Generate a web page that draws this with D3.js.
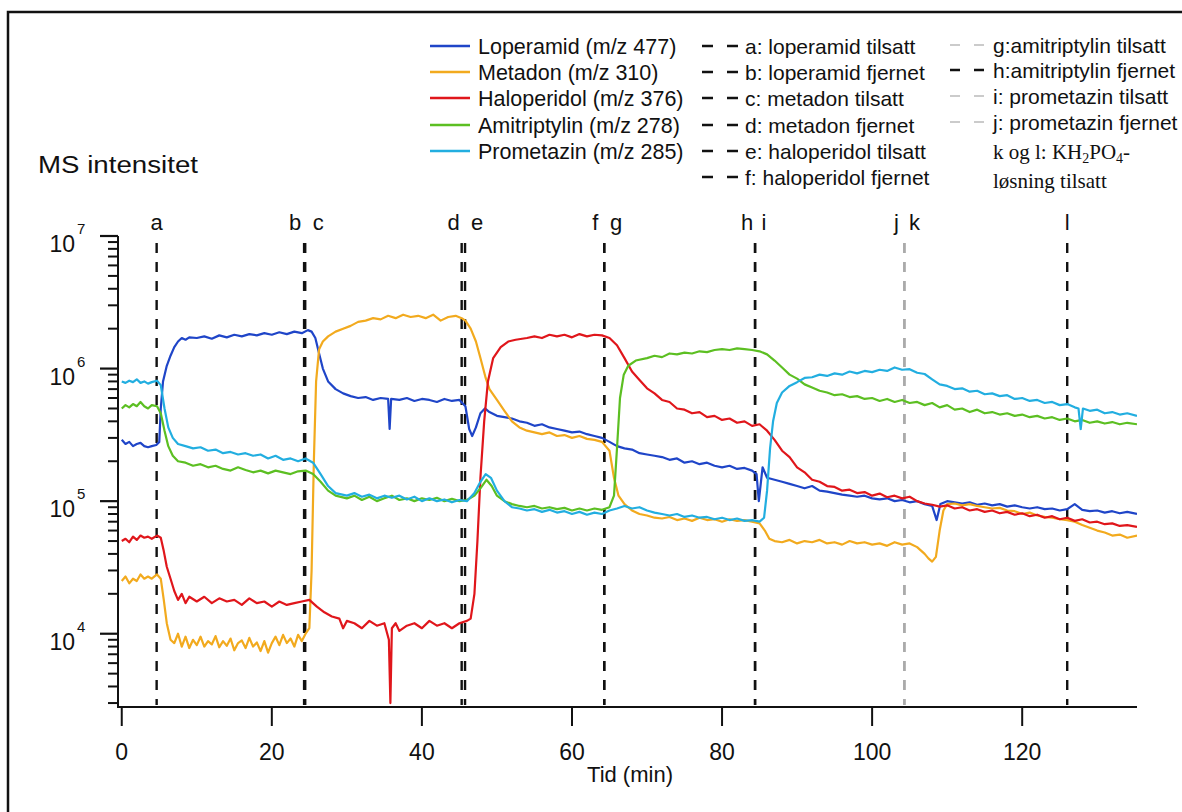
<!DOCTYPE html>
<html><head><meta charset="utf-8">
<script src="https://cdn.jsdelivr.net/npm/d3@7"></script>
<style>body{margin:0;background:#fff}svg{display:block}</style>
</head><body>
<script>
// ---------- DATA ----------
const seriesNames = ["Loperamid (m/z 477)","Metadon (m/z 310)","Haloperidol (m/z 376)","Amitriptylin (m/z 278)","Prometazin (m/z 285)"];
const loperamid = [[0,2.9e5],[0.5,2.7e5],[1,2.8e5],[1.5,2.6e5],[2,2.7e5],[2.5,2.75e5],[3,2.6e5],[3.5,2.55e5],[4,2.6e5],[4.6,2.65e5],[5,2.8e5],[5.2,5e5],[5.5,8e5],[6,1.05e6],[6.5,1.25e6],[7,1.45e6],[7.5,1.6e6],[8,1.7e6],[8.5,1.65e6],[9,1.72e6],[10,1.7e6],[11,1.75e6],[12,1.68e6],[13,1.78e6],[14,1.72e6],[15,1.8e6],[16,1.75e6],[17,1.82e6],[18,1.78e6],[19,1.85e6],[20,1.8e6],[21,1.88e6],[22,1.82e6],[23,1.9e6],[24,1.85e6],[24.8,1.95e6],[25.3,1.9e6],[25.8,1.7e6],[26.3,1.3e6],[26.8,1e6],[27.5,8e5],[28.5,7e5],[29.5,6.5e5],[30.5,6.2e5],[31.5,6e5],[32.5,6.1e5],[33.5,5.8e5],[34.5,6e5],[35.5,5.9e5],[35.7,3.5e5],[35.9,5.9e5],[37,5.8e5],[38,6e5],[39,5.7e5],[40,5.9e5],[41,5.8e5],[42,5.6e5],[43,5.9e5],[44,5.7e5],[45,5.8e5],[45.8,5.2e5],[46.3,3.5e5],[46.7,3.1e5],[47.2,3.6e5],[47.8,4.6e5],[48.4,5.0e5],[49,4.7e5],[50,4.4e5],[51,4.3e5],[52,4.2e5],[53,4.0e5],[54,3.9e5],[55,3.7e5],[56,3.8e5],[57,3.6e5],[58,3.5e5],[59,3.4e5],[60,3.3e5],[61,3.35e5],[62,3.2e5],[63,3.1e5],[64,3.0e5],[65,2.8e5],[66,2.6e5],[67,2.5e5],[68,2.45e5],[69,2.3e5],[70,2.25e5],[71,2.2e5],[72,2.15e5],[73,2.05e5],[74,2.1e5],[75,1.95e5],[76,2e5],[77,1.9e5],[78,1.95e5],[79,1.85e5],[80,1.8e5],[81,1.85e5],[82,1.75e5],[83,1.78e5],[84,1.7e5],[84.6,1.6e5],[84.9,1.0e5],[85.4,1.8e5],[86,1.5e5],[87,1.45e5],[88,1.4e5],[89,1.35e5],[90,1.3e5],[91,1.25e5],[92,1.3e5],[93,1.2e5],[94,1.18e5],[95,1.15e5],[96,1.12e5],[97,1.1e5],[98,1.08e5],[99,1.1e5],[100,1.05e5],[101,1.03e5],[102,1.05e5],[103,1e5],[104,1.02e5],[105,9.8e4],[106,1e5],[107,9.5e4],[108,9.2e4],[108.6,7.2e4],[109.1,9.5e4],[110,1.0e5],[111,9.8e4],[112,9.6e4],[113,9.8e4],[114,9.4e4],[115,9.6e4],[116,9.3e4],[117,9.5e4],[118,9.1e4],[119,9.3e4],[120,9.0e4],[121,8.8e4],[122,9.0e4],[123,8.7e4],[124,8.8e4],[125,8.5e4],[126,8.7e4],[127,9.5e4],[128,8.6e4],[129,8.4e4],[130,8.5e4],[131,8.2e4],[132,8.4e4],[133,8.1e4],[134,8.3e4],[135.3,8.0e4]];
const metadon = [[0,2.5e4],[0.5,2.7e4],[1,2.4e4],[1.5,2.6e4],[2,2.5e4],[2.5,2.8e4],[3,2.6e4],[3.5,2.7e4],[4,2.6e4],[4.7,2.8e4],[5.2,2.6e4],[5.6,1.8e4],[6,1.2e4],[6.5,9e3],[7,8.5e3],[7.5,1.0e4],[8,8e3],[8.5,9.5e3],[9,7.8e3],[9.5,9e3],[10,8.2e3],[10.5,9.5e3],[11,8e3],[11.5,8.8e3],[12,8.3e3],[12.5,9.6e3],[13,7.9e3],[13.5,8.8e3],[14,8.1e3],[14.5,9.2e3],[15,7.5e3],[15.5,8.5e3],[16,8.9e3],[16.5,7.8e3],[17,9.3e3],[17.5,8e3],[18,8.6e3],[18.5,7.4e3],[19,8.8e3],[19.5,7.2e3],[20,8.5e3],[20.5,9.5e3],[21,8.2e3],[21.5,9.8e3],[22,8.5e3],[22.5,9.2e3],[23,8.0e3],[23.5,9.8e3],[24,8.8e3],[24.5,1.0e4],[25,1.1e4],[25.3,3e4],[25.6,2e5],[25.9,8e5],[26.3,1.4e6],[26.8,1.6e6],[27.5,1.75e6],[28.5,1.9e6],[29.5,2.0e6],[30.5,2.1e6],[31.5,2.25e6],[32.5,2.3e6],[33.5,2.4e6],[34.5,2.35e6],[35.5,2.5e6],[36.5,2.4e6],[37.5,2.55e6],[38.5,2.45e6],[39.5,2.5e6],[40.5,2.4e6],[41.5,2.55e6],[42.5,2.3e6],[43.5,2.45e6],[44.5,2.5e6],[45.3,2.4e6],[45.8,2.3e6],[46.5,2.0e6],[47.2,1.6e6],[47.8,1.2e6],[48.5,8.5e5],[49,7e5],[50,5.8e5],[51,4.8e5],[52,4e5],[53,3.6e5],[54,3.4e5],[55,3.3e5],[56,3.2e5],[57,3.3e5],[58,3.1e5],[59,3.15e5],[60,3.0e5],[61,3.1e5],[62,2.95e5],[63,2.9e5],[64,2.8e5],[65,2.4e5],[65.6,1.5e5],[66.2,1.1e5],[67,9.5e4],[68,8.5e4],[69,8e4],[70,7.8e4],[71,7.5e4],[72,7.4e4],[73,7.6e4],[74,7.2e4],[75,7.4e4],[76,7.1e4],[77,7.5e4],[78,7.2e4],[79,7.3e4],[80,7.0e4],[81,7.3e4],[82,7.1e4],[83,7.2e4],[84,7.0e4],[85,6.8e4],[85.7,6e4],[86.3,5.2e4],[87,5.0e4],[88,4.9e4],[89,5.1e4],[90,4.8e4],[91,5.0e4],[92,4.9e4],[93,5.1e4],[94,4.8e4],[95,4.9e4],[96,4.7e4],[97,5.0e4],[98,4.8e4],[99,4.9e4],[100,4.7e4],[101,4.8e4],[102,4.6e4],[103,4.9e4],[104,4.7e4],[105,4.8e4],[106,4.5e4],[107,4.0e4],[107.5,3.7e4],[108,3.5e4],[108.5,3.8e4],[109,6e4],[109.5,8.5e4],[110,9.5e4],[111,9.6e4],[112,9.3e4],[113,9.5e4],[114,9.2e4],[115,9.0e4],[116,8.8e4],[117,8.9e4],[118,8.5e4],[119,8.4e4],[120,8.0e4],[121,8.2e4],[122,7.8e4],[123,7.6e4],[124,7.5e4],[125,7.3e4],[126,7.2e4],[127,7.0e4],[128,6.6e4],[129,6.3e4],[130,6.0e4],[131,5.8e4],[132,5.5e4],[133,5.6e4],[134,5.3e4],[135.3,5.5e4]];
const haloperidol = [[0,5e4],[0.5,5.2e4],[1,4.9e4],[1.5,5.4e4],[2,5.1e4],[2.5,5.5e4],[3,5.3e4],[3.5,5.4e4],[4,5.2e4],[4.7,5.5e4],[5.2,5.3e4],[5.6,4.2e4],[6,3.2e4],[6.5,2.6e4],[7,2.1e4],[7.5,1.8e4],[8,2.0e4],[8.5,1.7e4],[9,1.9e4],[10,1.75e4],[11,1.9e4],[12,1.7e4],[13,1.85e4],[14,1.75e4],[15,1.8e4],[16,1.65e4],[17,1.85e4],[18,1.7e4],[19,1.75e4],[20,1.6e4],[21,1.75e4],[22,1.65e4],[23,1.7e4],[24,1.75e4],[25,1.8e4],[26,1.6e4],[27,1.45e4],[28,1.35e4],[29,1.3e4],[29.5,1.1e4],[30,1.25e4],[31,1.2e4],[32,1.1e4],[33,1.25e4],[34,1.15e4],[35,1.2e4],[35.6,9e3],[35.8,3e3],[36,1.1e4],[36.5,1.2e4],[37,1.05e4],[38,1.15e4],[39,1.2e4],[40,1.1e4],[41,1.25e4],[42,1.15e4],[43,1.2e4],[44,1.1e4],[45,1.2e4],[46,1.25e4],[46.5,1.3e4],[47,2e4],[47.4,5e4],[47.8,1.5e5],[48.3,4e5],[48.8,8e5],[49.5,1.2e6],[50.5,1.45e6],[51.5,1.6e6],[52.5,1.65e6],[54,1.7e6],[55,1.75e6],[56,1.7e6],[57,1.8e6],[58,1.75e6],[59,1.8e6],[60,1.72e6],[61,1.82e6],[62,1.75e6],[63,1.8e6],[64,1.78e6],[65,1.7e6],[66,1.5e6],[67,1.2e6],[68,9.5e5],[69,8.2e5],[70,7.1e5],[71,6.5e5],[72,5.8e5],[73,5.6e5],[74,5.0e5],[75,4.9e5],[76,4.6e5],[77,4.7e5],[78,4.3e5],[79,4.4e5],[80,4.1e5],[81,4.2e5],[82,3.9e5],[83,4.0e5],[84,3.7e5],[85,3.8e5],[86,3.4e5],[87,2.9e5],[88,2.4e5],[89,2.15e5],[90,1.8e5],[91,1.65e5],[92,1.45e5],[93,1.4e5],[94,1.3e5],[95,1.28e5],[96,1.2e5],[97,1.22e5],[98,1.15e5],[99,1.17e5],[100,1.1e5],[101,1.14e5],[102,1.07e5],[103,1.1e5],[104,1.05e5],[105,1.08e5],[106,1.0e5],[107,9.6e4],[108,9.4e4],[109,9.1e4],[110,9.3e4],[111,8.8e4],[112,9.0e4],[113,8.5e4],[114,8.7e4],[115,8.3e4],[116,8.5e4],[117,8.1e4],[118,8.3e4],[119,7.9e4],[120,8.1e4],[121,7.7e4],[122,7.9e4],[123,7.5e4],[124,7.7e4],[125,7.3e4],[126,7.5e4],[127,7.1e4],[128,7.3e4],[129,6.9e4],[130,7.0e4],[131,6.7e4],[132,6.8e4],[133,6.5e4],[134,6.6e4],[135.3,6.4e4]];
const amitriptylin = [[0,5e5],[0.5,5.3e5],[1,5.1e5],[1.5,5.4e5],[2,5.2e5],[2.5,5.6e5],[3,5.2e5],[3.5,5.0e5],[4,5.3e5],[4.7,5.2e5],[5.2,4.6e5],[5.7,3.4e5],[6.2,2.6e5],[6.8,2.2e5],[7.5,2.0e5],[8.5,1.95e5],[9.5,1.85e5],[10.5,1.9e5],[11.5,1.8e5],[12.5,1.85e5],[13.5,1.75e5],[14.5,1.7e5],[15.5,1.8e5],[16.5,1.72e5],[17.5,1.65e5],[18.5,1.7e5],[19.5,1.62e5],[20.5,1.7e5],[21.5,1.65e5],[22.5,1.6e5],[23.5,1.68e5],[24.5,1.7e5],[25.5,1.6e5],[26.5,1.4e5],[27.5,1.2e5],[28.5,1.1e5],[30,1.05e5],[31,1.1e5],[32,1.02e5],[33,1.08e5],[34,1.0e5],[35,1.05e5],[36,1.1e5],[37,1.02e5],[38,1.05e5],[39,1e5],[40,1.05e5],[41,1.02e5],[42,1.06e5],[43,1.0e5],[44,1.04e5],[45,1.0e5],[46,1.02e5],[47,1.1e5],[47.8,1.25e5],[48.6,1.45e5],[49.3,1.3e5],[50,1.1e5],[51,1.0e5],[52,9.5e4],[53,9.2e4],[54,9.0e4],[55,9.2e4],[56,8.8e4],[57,9e4],[58,8.7e4],[59,8.9e4],[60,8.5e4],[61,8.8e4],[62,8.5e4],[63,8.8e4],[64,8.6e4],[65,9e4],[65.6,1.1e5],[66,2.5e5],[66.4,6e5],[66.9,9e5],[67.5,1.05e6],[68.5,1.15e6],[70,1.2e6],[71,1.25e6],[72,1.22e6],[73,1.3e6],[74,1.28e6],[75,1.32e6],[76,1.3e6],[77,1.35e6],[78,1.33e6],[79,1.38e6],[80,1.4e6],[81,1.38e6],[82,1.42e6],[83,1.4e6],[84,1.38e6],[85,1.35e6],[86,1.28e6],[87,1.15e6],[88,1.02e6],[89,9e5],[90,8.4e5],[91,7.6e5],[92,7.2e5],[93,6.8e5],[94,6.6e5],[95,6.3e5],[96,6.4e5],[97,6.1e5],[98,6.2e5],[99,5.9e5],[100,6.0e5],[101,5.7e5],[102,5.9e5],[103,5.6e5],[104,5.8e5],[105,5.5e5],[106,5.6e5],[107,5.3e5],[108,5.5e5],[109,5.1e5],[110,5.3e5],[111,4.9e5],[112,5.0e5],[113,4.7e5],[114,4.9e5],[115,4.6e5],[116,4.7e5],[117,4.5e5],[118,4.6e5],[119,4.4e5],[120,4.5e5],[121,4.3e5],[122,4.4e5],[123,4.2e5],[124,4.3e5],[125,4.1e5],[126,4.2e5],[127,4.0e5],[128,4.1e5],[129,3.9e5],[130,4.0e5],[131,3.85e5],[132,3.95e5],[133,3.8e5],[134,3.9e5],[135.3,3.8e5]];
const prometazin = [[0,8e5],[0.5,7.8e5],[1,8.1e5],[1.5,7.9e5],[2,8.3e5],[2.5,7.8e5],[3,8.0e5],[3.5,7.7e5],[4,7.9e5],[4.7,8.1e5],[5.2,7.5e5],[5.7,5e5],[6.2,3.6e5],[6.8,3.0e5],[7.5,2.7e5],[8.5,2.6e5],[9.5,2.5e5],[10.5,2.55e5],[11.5,2.4e5],[12.5,2.45e5],[13.5,2.3e5],[14.5,2.35e5],[15.5,2.25e5],[16.5,2.3e5],[17.5,2.2e5],[18.5,2.25e5],[19.5,2.1e5],[20.5,2.2e5],[21.5,2.05e5],[22.5,2.1e5],[23.5,2.0e5],[24.5,2.1e5],[25.5,1.95e5],[26.5,1.6e5],[27.5,1.3e5],[28.5,1.15e5],[30,1.1e5],[31,1.15e5],[32,1.08e5],[33,1.12e5],[34,1.05e5],[35,1.1e5],[36,1.06e5],[37,1.1e5],[38,1.03e5],[39,1.08e5],[40,1.0e5],[41,1.05e5],[42,1.0e5],[43,1.03e5],[44,9.8e4],[45,1.02e5],[46,1.0e5],[47,1.15e5],[47.8,1.4e5],[48.5,1.6e5],[49.2,1.5e5],[50,1.2e5],[51,1.0e5],[52,9e4],[53,8.8e4],[54,8.5e4],[55,8.7e4],[56,8.3e4],[57,8.6e4],[58,8.2e4],[59,8.4e4],[60,8e4],[61,8.3e4],[62,7.9e4],[63,8.2e4],[64,8.0e4],[65,8.5e4],[66,8.8e4],[67,9.2e4],[68,8.8e4],[69,9.0e4],[70,8.5e4],[71,8.2e4],[72,8.0e4],[73,7.8e4],[74,8.0e4],[75,7.6e4],[76,7.8e4],[77,7.5e4],[78,7.6e4],[79,7.3e4],[80,7.5e4],[81,7.2e4],[82,7.4e4],[83,7.1e4],[84,7.2e4],[85,7.0e4],[85.6,7.5e4],[86,1.2e5],[86.4,2.5e5],[86.8,4e5],[87.3,5.5e5],[88,6.6e5],[89,7.4e5],[90,7.9e5],[91,8.5e5],[92,8.6e5],[93,9.0e5],[94,8.8e5],[95,9.2e5],[96,9.0e5],[97,9.5e5],[98,9.2e5],[99,9.6e5],[100,9.4e5],[101,9.8e5],[102,9.6e5],[103,1.02e6],[104,9.8e5],[105,9.9e5],[106,9.3e5],[107,9.1e5],[108,8.3e5],[109,7.6e5],[110,7.4e5],[111,7.0e5],[112,7.1e5],[113,6.7e5],[114,6.8e5],[115,6.4e5],[116,6.5e5],[117,6.2e5],[118,6.3e5],[119,5.9e5],[120,6.0e5],[121,5.7e5],[122,5.8e5],[123,5.5e5],[124,5.6e5],[125,5.3e5],[126,5.4e5],[127,5.1e5],[127.5,5.0e5],[127.8,3.5e5],[128.1,5.0e5],[129,4.8e5],[130,4.9e5],[131,4.6e5],[132,4.7e5],[133,4.5e5],[134,4.6e5],[135.3,4.4e5]];
const seriesColors = ["#1f45c8","#f2aa1e","#e0161b","#5cbf22","#22aee0"];
const eventTimes  = [4.65, 24.3, 24.45, 45.3, 45.75, 64.3, 64.3, 84.4, 84.4, 104.3, 104.3, 126.0];
const eventLabels = ["a","b","c","d","e","f","g","h","i","j","k","l"];
const eventLegend = ["a: loperamid tilsatt","b: loperamid fjernet","c: metadon tilsatt","d: metadon fjernet","e: haloperidol tilsatt","f: haloperidol fjernet"];
const eventLegend2 = ["g:amitriptylin tilsatt","h:amitriptylin fjernet","i: prometazin tilsatt","j: prometazin fjernet"];
const xTicks = [0,20,40,60,80,100,120];
const yMajor = [4,5,6,7];

// ---------- CHART ----------
const SANS='"Liberation Sans",Arial,sans-serif', SERIF='"Liberation Serif","Times New Roman",serif';
const W=1182,H=812;
const svg=d3.select("body").append("svg").attr("width",W).attr("height",H).style("font-family",SANS);
svg.append("rect").attr("x",8).attr("y",12).attr("width",1300).attr("height",900).attr("fill","none").attr("stroke","#111").attr("stroke-width",2.5);

const x=d3.scaleLinear().domain([-0.5,135.3]).range([118,1137]);
const y=d3.scaleLog().domain([2.9e3,1e7]).range([705,236]);

svg.append("defs").append("clipPath").attr("id","clip").append("rect").attr("x",119).attr("y",236).attr("width",1018).attr("height",469);

// event lines
const evGroup=svg.append("g");
eventTimes.forEach((t,i)=>{
  const grey = (eventLabels[i]==="j"||eventLabels[i]==="k");
  evGroup.append("line").attr("x1",x(t)).attr("x2",x(t)).attr("y1",243).attr("y2",705)
    .attr("stroke",grey?"#aaa":"#111").attr("stroke-width",2.4).attr("stroke-dasharray","10,9");
});
const labelDx={a:0,b:-9,c:13,d:-8,e:12,f:-9,g:12,h:-8,i:9,j:-8,k:10,l:0};
eventTimes.forEach((t,i)=>{
  svg.append("text").attr("x",x(t)+labelDx[eventLabels[i]]).attr("y",230).attr("text-anchor","middle")
    .attr("font-size",22).attr("fill","#111").text(eventLabels[i]);
});

// series
const line=d3.line().x(d=>x(d[0])).y(d=>y(d[1]));
const plot=svg.append("g").attr("clip-path","url(#clip)");
[loperamid,metadon,haloperidol,amitriptylin,prometazin].forEach((s,i)=>{
  plot.append("path").datum(s).attr("d",line).attr("fill","none").attr("stroke",seriesColors[i]).attr("stroke-width",2.2).attr("stroke-linejoin","round");
});

// y axis
const ya=svg.append("g");
ya.append("line").attr("x1",118).attr("x2",118).attr("y1",236).attr("y2",706).attr("stroke","#111").attr("stroke-width",2);
const minor=[];
for(let e=3;e<=6;e++) for(let m=2;m<=9;m++){const v=m*Math.pow(10,e); if(v>=2.9e3&&v<=1e7) minor.push(v);}
minor.forEach(v=>ya.append("line").attr("x1",108).attr("x2",118).attr("y1",y(v)).attr("y2",y(v)).attr("stroke","#111").attr("stroke-width",2));
yMajor.forEach(e=>{
  const v=Math.pow(10,e);
  ya.append("line").attr("x1",100).attr("x2",118).attr("y1",y(v)).attr("y2",y(v)).attr("stroke","#111").attr("stroke-width",2.2);
  ya.append("text").attr("x",75).attr("y",y(v)+16).attr("text-anchor","end").attr("font-size",23).attr("fill","#111").text("10");
  ya.append("text").attr("x",77).attr("y",y(v)-2).attr("font-size",15).attr("fill","#111").text(e);
});

// x axis
const xa=svg.append("g");
xa.append("line").attr("x1",117).attr("x2",1137).attr("y1",707).attr("y2",707).attr("stroke","#111").attr("stroke-width",2.2);
xTicks.forEach(t=>{
  xa.append("line").attr("x1",x(t)).attr("x2",x(t)).attr("y1",707).attr("y2",726).attr("stroke","#111").attr("stroke-width",2);
  xa.append("text").attr("x",x(t)).attr("y",760).attr("text-anchor","middle").attr("font-size",23).attr("fill","#111").text(t);
});
svg.append("text").attr("x",630).attr("y",782).attr("text-anchor","middle").attr("font-size",22).attr("fill","#111").text("Tid (min)");
svg.append("text").attr("x",38).attr("y",173).attr("font-size",23).attr("textLength",160).attr("lengthAdjust","spacingAndGlyphs").attr("fill","#111").text("MS intensitet");

// legend col 1 + col 2
const rowY=[46,72,98,125,151,177];
seriesNames.forEach((n,i)=>{
  svg.append("line").attr("x1",430).attr("x2",470).attr("y1",rowY[i]).attr("y2",rowY[i]).attr("stroke",seriesColors[i]).attr("stroke-width",2.5);
  svg.append("text").attr("x",478).attr("y",rowY[i]+8).attr("font-size",21.5).attr("fill","#111").text(n);
});
eventLegend.forEach((n,i)=>{
  svg.append("line").attr("x1",702).attr("x2",738).attr("y1",rowY[i]).attr("y2",rowY[i]).attr("stroke","#111").attr("stroke-width",2.5).attr("stroke-dasharray","11,14");
  svg.append("text").attr("x",745).attr("y",rowY[i]+8).attr("font-size",21).attr("fill","#111").text(n);
});
// legend col 3
const rowY2=[45,70,96,122];
eventLegend2.forEach((n,i)=>{
  const dark = i===1;
  svg.append("line").attr("x1",950).attr("x2",985).attr("y1",rowY2[i]).attr("y2",rowY2[i]).attr("stroke",dark?"#111":"#bbb").attr("stroke-width",dark?2.5:1.5).attr("stroke-dasharray","10,14");
  svg.append("text").attr("x",993).attr("y",rowY2[i]+8).attr("font-size",21).attr("fill","#111").text(n);
});
const kl=svg.append("text").attr("x",993).attr("y",159).style("font-family",SERIF).attr("font-size",21).attr("fill","#111");
kl.append("tspan").text("k og l: KH");
kl.append("tspan").attr("font-size",14).attr("dy",4).text("2");
kl.append("tspan").attr("dy",-4).text("PO");
kl.append("tspan").attr("font-size",14).attr("dy",4).text("4");
kl.append("tspan").attr("dy",-4).text("-");
svg.append("text").attr("x",993).attr("y",188).style("font-family",SERIF).attr("font-size",21).attr("fill","#111").text("løsning tilsatt");
</script>
</body></html>
